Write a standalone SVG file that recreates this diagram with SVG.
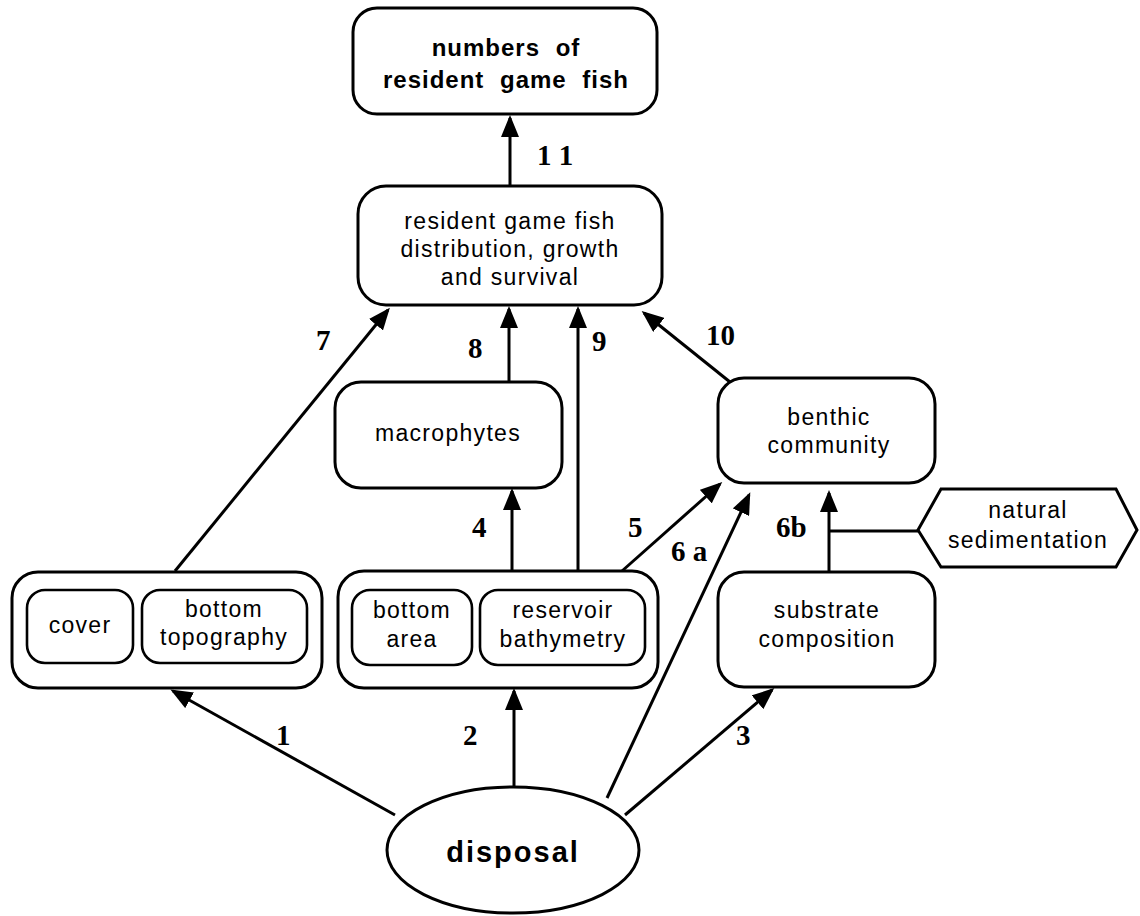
<svg xmlns="http://www.w3.org/2000/svg" width="1140" height="916" viewBox="0 0 1140 916">
  <defs>
    <marker id="arrow" markerUnits="userSpaceOnUse" markerWidth="22" markerHeight="18" refX="19" refY="9" orient="auto">
      <path d="M0,0 L22,9 L0,18 Z" fill="#000"/>
    </marker>
    <style>
      .box { fill: #fff; stroke: #000; stroke-width: 3; }
      .inner { fill: #fff; stroke: #000; stroke-width: 2.6; }
      .lbl { font-family: "Liberation Sans", Arial, sans-serif; font-size: 23px; letter-spacing: 1.3px; text-anchor: middle; fill: #000; }
      .title { font-family: "Liberation Sans", Arial, sans-serif; font-size: 24px; font-weight: bold; letter-spacing: 1px; word-spacing: 8px; text-anchor: middle; fill: #000; }
      .big { font-family: "Liberation Sans", Arial, sans-serif; font-size: 29px; font-weight: bold; letter-spacing: 2px; text-anchor: middle; fill: #000; }
      .num { font-family: "Liberation Serif", "Times New Roman", serif; font-size: 29px; font-weight: bold; fill: #000; }
      .edge { stroke: #000; stroke-width: 3; fill: none; }
      .arr { marker-end: url(#arrow); }
    </style>
  </defs>
  <rect width="1140" height="916" fill="#fff"/>

  <!-- connectors -->
  <g id="connectors">
    <line class="edge arr" x1="395" y1="815" x2="173" y2="691"/>
    <line class="edge arr" x1="514" y1="786" x2="514" y2="691"/>
    <line class="edge arr" x1="625" y1="815" x2="772" y2="690"/>
    <line class="edge arr" x1="512" y1="572" x2="512" y2="491"/>
    <line class="edge arr" x1="622" y1="571" x2="720" y2="484"/>
    <line class="edge arr" x1="607" y1="798" x2="749" y2="495"/>
    <line class="edge arr" x1="829" y1="572" x2="829" y2="493"/>
    <line class="edge" x1="829" y1="531" x2="918" y2="531"/>
    <line class="edge arr" x1="175" y1="571" x2="388" y2="310"/>
    <line class="edge arr" x1="509" y1="382" x2="509" y2="309"/>
    <line class="edge arr" x1="578" y1="571" x2="578" y2="309"/>
    <line class="edge arr" x1="730" y1="382" x2="644" y2="313"/>
    <line class="edge arr" x1="510" y1="186" x2="510" y2="118"/>

    <text class="num" x="276" y="745">1</text>
    <text class="num" x="463" y="745">2</text>
    <text class="num" x="736" y="745">3</text>
    <text class="num" x="472" y="537">4</text>
    <text class="num" x="628" y="537">5</text>
    <text class="num" x="671" y="561">6 a</text>
    <text class="num" x="776" y="537">6b</text>
    <text class="num" x="316" y="350">7</text>
    <text class="num" x="468" y="358">8</text>
    <text class="num" x="592" y="351">9</text>
    <text class="num" x="706" y="345">10</text>
    <text class="num" x="537" y="165">1 1</text>
  </g>

  <g id="fish-numbers">
    <rect class="box" x="353" y="8" width="304" height="106" rx="24"/>
    <text class="title" x="506" y="56">numbers of</text>
    <text class="title" x="506" y="88">resident game fish</text>
  </g>

  <g id="fish-distribution">
    <rect class="box" x="358" y="186" width="304" height="119" rx="28"/>
    <text class="lbl" x="510" y="229">resident game fish</text>
    <text class="lbl" x="510" y="257">distribution, growth</text>
    <text class="lbl" x="510" y="285">and survival</text>
  </g>

  <g id="macrophytes">
    <rect class="box" x="335" y="382" width="227" height="106" rx="26"/>
    <text class="lbl" x="448" y="441">macrophytes</text>
  </g>

  <g id="benthic-community">
    <rect class="box" x="718" y="378" width="217" height="105" rx="26"/>
    <text class="lbl" x="829" y="425">benthic</text>
    <text class="lbl" x="829" y="453">community</text>
  </g>

  <g id="natural-sedimentation">
    <polygon class="box" points="918,530 941,489 1116,489 1137,530 1116,567 941,567"/>
    <text class="lbl" x="1028" y="518">natural</text>
    <text class="lbl" x="1028" y="548">sedimentation</text>
  </g>

  <g id="substrate-composition">
    <rect class="box" x="718" y="572" width="217" height="115" rx="26"/>
    <text class="lbl" x="827" y="618">substrate</text>
    <text class="lbl" x="827" y="647">composition</text>
  </g>

  <g id="cover-topography">
    <rect class="box" x="12" y="572" width="310" height="116" rx="26"/>
    <rect class="inner" x="27" y="590" width="106" height="73" rx="18"/>
    <text class="lbl" x="80" y="633">cover</text>
    <rect class="inner" x="142" y="590" width="165" height="73" rx="18"/>
    <text class="lbl" x="224" y="617">bottom</text>
    <text class="lbl" x="224" y="645">topography</text>
  </g>

  <g id="area-bathymetry">
    <rect class="box" x="338" y="571" width="320" height="117" rx="26"/>
    <rect class="inner" x="352" y="590" width="120" height="75" rx="18"/>
    <text class="lbl" x="412" y="618">bottom</text>
    <text class="lbl" x="412" y="647">area</text>
    <rect class="inner" x="480" y="590" width="165" height="75" rx="18"/>
    <text class="lbl" x="563" y="618">reservoir</text>
    <text class="lbl" x="563" y="647">bathymetry</text>
  </g>

  <g id="disposal">
    <ellipse class="box" cx="513" cy="850" rx="126" ry="63"/>
    <text class="big" x="513" y="862">disposal</text>
  </g>
</svg>
